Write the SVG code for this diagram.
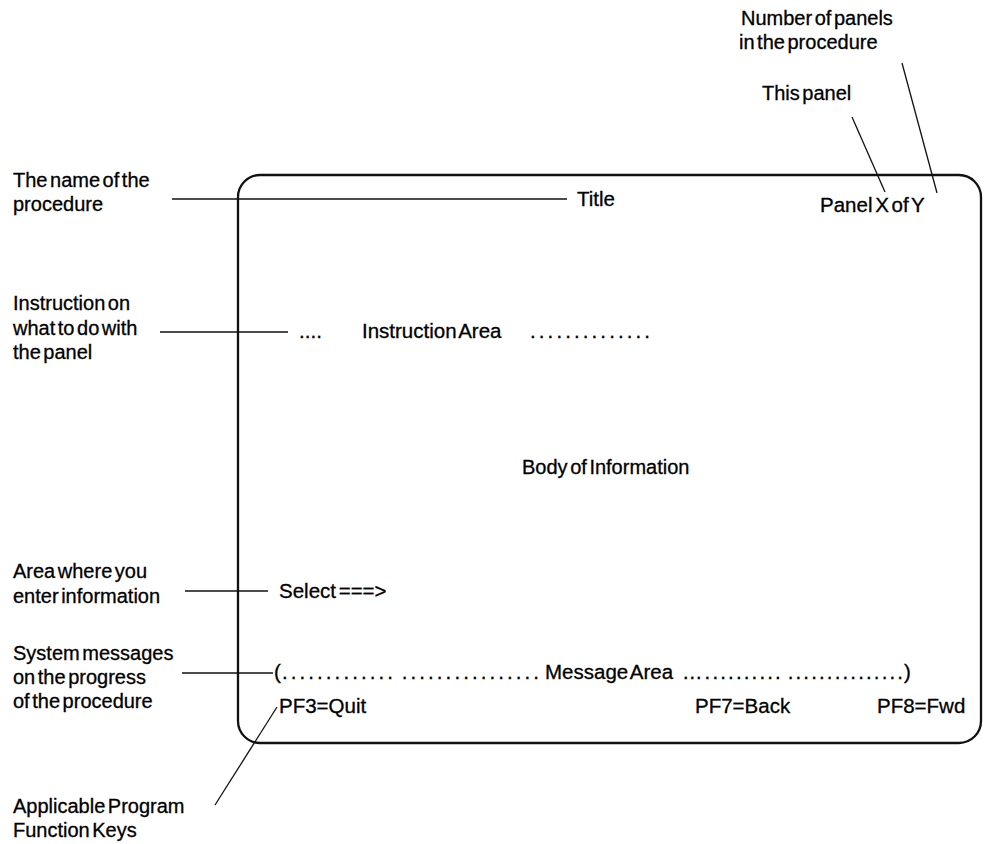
<svg xmlns="http://www.w3.org/2000/svg" width="985" height="844" viewBox="0 0 985 844">
<style>
text{font-family:"Liberation Sans",Arial,sans-serif;font-size:20px;fill:#000;stroke:#000;stroke-width:0.3;word-spacing:-3px}
.in{font-size:20.5px}
.ln{stroke:#111;stroke-width:1.3;fill:none}
.box{stroke:#111;stroke-width:2.3;fill:none}
</style>
<rect width="985" height="844" fill="#fff"/>
<g id="screen">
<rect class="box" x="238" y="175" width="743" height="568" rx="22" ry="22"/>
</g>
<g id="connectors">
<line class="ln" x1="172" y1="199" x2="567" y2="199"/>
<line class="ln" x1="160" y1="332" x2="288" y2="332"/>
<line class="ln" x1="185" y1="591" x2="268" y2="591"/>
<line class="ln" x1="182" y1="673" x2="273" y2="673"/>
<line class="ln" x1="277" y1="707" x2="215" y2="805"/>
<line class="ln" x1="852" y1="117" x2="885" y2="192"/>
<line class="ln" x1="902" y1="63" x2="937" y2="193"/>
</g>
<g id="label-name"><text x="13" y="187">The name of the</text><text x="13" y="211">procedure</text></g>
<g id="label-instruction"><text x="13" y="310">Instruction on</text><text x="13" y="335">what to do with</text><text x="13" y="359">the panel</text></g>
<g id="label-area"><text x="13" y="578">Area where you</text><text x="13" y="603">enter information</text></g>
<g id="label-system"><text x="13" y="660">System messages</text><text x="13" y="684">on the progress</text><text x="13" y="708">of the procedure</text></g>
<g id="label-keys"><text x="13" y="813">Applicable Program</text><text x="13" y="837">Function Keys</text></g>
<g id="label-number"><text x="741" y="25">Number of panels</text><text x="739" y="49">in the procedure</text></g>
<g id="label-this"><text x="762" y="100">This panel</text></g>
<g id="title"><text class="in" x="577" y="206">Title</text></g>
<g id="panel-xy"><text class="in" x="820" y="212">Panel X of Y</text></g>
<g id="instruction-area">
<text class="in" x="299" y="338" textLength="23" lengthAdjust="spacing">....</text>
<text class="in" x="362" y="338">Instruction Area</text>
<text class="in" x="530" y="338" textLength="120" lengthAdjust="spacing">..............</text>
</g>
<g id="body"><text x="522" y="474">Body of Information</text></g>
<g id="select"><text class="in" x="279" y="598">Select ===&gt;</text></g>
<g id="message-area">
<text class="in" x="274" y="679">(</text>
<text class="in" x="282" y="679" textLength="257" lengthAdjust="spacing">............. ................</text>
<text class="in" x="545" y="679">Message Area</text>
<text class="in" x="682" y="679" textLength="221" lengthAdjust="spacing">….......... ...............</text>
<text class="in" x="904" y="679">)</text>
</g>
<g id="pf-keys">
<text class="in" x="279" y="713">PF3=Quit</text>
<text class="in" x="695" y="713">PF7=Back</text>
<text class="in" x="877" y="713">PF8=Fwd</text>
</g>
</svg>
